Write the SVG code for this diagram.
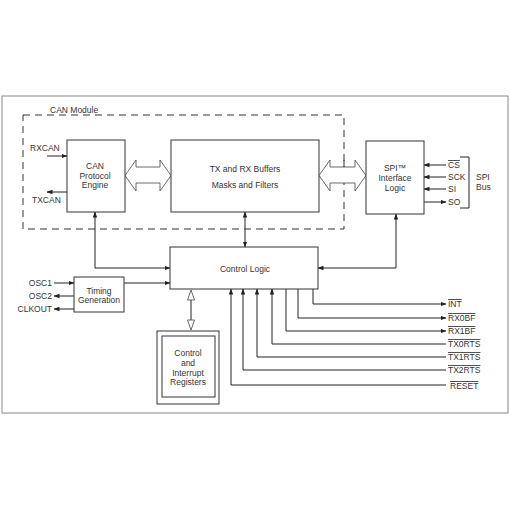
<svg xmlns="http://www.w3.org/2000/svg" width="510" height="510" viewBox="0 0 510 510">
<style>
text{font-family:"Liberation Sans",Arial,sans-serif;font-size:8.5px;fill:#333}
.m{text-anchor:middle}
.e{text-anchor:end}
.box{fill:#fff;stroke:#333;stroke-width:1}
.ln{fill:none;stroke:#222;stroke-width:1}
.ha{fill:#fff;stroke:#444;stroke-width:0.8}
.ov{text-decoration:overline}
</style>
<defs>
<marker id="ar" markerWidth="6" markerHeight="6" refX="5.5" refY="3" orient="auto" markerUnits="userSpaceOnUse">
<path d="M0,0.8 L6,3 L0,5.2 Z" fill="#222"/>
</marker>
<marker id="as" markerWidth="6" markerHeight="6" refX="0.5" refY="3" orient="auto" markerUnits="userSpaceOnUse">
<path d="M6,0.8 L0,3 L6,5.2 Z" fill="#222"/>
</marker>
</defs>
<rect x="2" y="96" width="506" height="317" fill="#fff" stroke="#888" stroke-width="1"/>
<g id="can-module">
<rect x="23" y="115" width="321" height="114" fill="none" stroke="#333" stroke-width="1" stroke-dasharray="7,5"/>
<text x="50" y="113">CAN Module</text>
</g>
<g id="connectors">
<!-- hollow double arrows -->
<path class="ha" d="M125,175.5 L136,160 L136,167 L160,167 L160,160 L171,175.5 L160,191 L160,183 L136,183 L136,191 Z"/>
<path class="ha" d="M319,175.5 L330,160 L330,167 L355,167 L355,160 L366,175.5 L355,191 L355,183 L330,183 L330,191 Z"/>
<line x1="344" y1="160" x2="344" y2="167" stroke="#333" stroke-dasharray="7,5"/>
<!-- RXCAN/TXCAN -->
<line class="ln" x1="47" y1="156" x2="67" y2="156" marker-end="url(#ar)"/>
<line class="ln" x1="67" y1="192" x2="47" y2="192" marker-end="url(#ar)"/>
<!-- buffers <-> control logic -->
<line class="ln" x1="245" y1="212" x2="245" y2="247" marker-start="url(#as)" marker-end="url(#ar)"/>
<!-- CAN engine -> control -->
<path class="ln" d="M95,212 L95,268 L170,268" marker-start="url(#as)" marker-end="url(#ar)"/>
<!-- SPI -> control -->
<path class="ln" d="M396,214 L396,268 L318,268" marker-start="url(#as)" marker-end="url(#ar)"/>
<!-- timing -> control -->
<line class="ln" x1="124" y1="283" x2="170" y2="283" marker-end="url(#ar)"/>
<!-- OSC -->
<line class="ln" x1="54" y1="283" x2="74" y2="283" marker-end="url(#ar)"/>
<line class="ln" x1="74" y1="296" x2="54" y2="296" marker-end="url(#ar)"/>
<line class="ln" x1="74" y1="309" x2="54" y2="309" marker-end="url(#ar)"/>
<!-- SPI bus -->
<line class="ln" x1="446" y1="165" x2="424" y2="165" marker-end="url(#ar)"/>
<line class="ln" x1="446" y1="177" x2="424" y2="177" marker-end="url(#ar)"/>
<line class="ln" x1="446" y1="189" x2="424" y2="189" marker-end="url(#ar)"/>
<line class="ln" x1="424" y1="202" x2="446" y2="202" marker-end="url(#ar)"/>
<path class="ln" d="M460,157 L469,157 L469,208 L460,208"/>
<!-- control <-> registers hollow -->
<line class="ln" x1="191" y1="296" x2="191" y2="323"/>
<path class="ha" d="M191,290 L194.5,300 L187.5,300 Z"/>
<path class="ha" d="M191,330 L194.5,320 L187.5,320 Z"/>
<!-- output signals -->
<path class="ln" d="M313,289 L313,304 L446,304" marker-end="url(#ar)"/>
<path class="ln" d="M298,289 L298,318 L446,318" marker-end="url(#ar)"/>
<path class="ln" d="M286,289 L286,331 L446,331" marker-end="url(#ar)"/>
<path class="ln" d="M446,344 L272,344 L272,289" marker-end="url(#ar)"/>
<path class="ln" d="M446,357 L257,357 L257,289" marker-end="url(#ar)"/>
<path class="ln" d="M446,370 L243,370 L243,289" marker-end="url(#ar)"/>
<path class="ln" d="M446,385 L231,385 L231,289" marker-end="url(#ar)"/>
</g>
<g id="can-protocol-engine">
<rect class="box" x="67" y="140" width="58" height="72"/>
<text class="m" x="95" y="169">CAN</text>
<text class="m" x="95" y="179">Protocol</text>
<text class="m" x="95" y="188">Engine</text>
</g>
<g id="buffers">
<rect class="box" x="171" y="140" width="148" height="72"/>
<text class="m" x="245" y="172">TX and RX Buffers</text>
<text class="m" x="245" y="188">Masks and Filters</text>
</g>
<g id="spi-logic">
<rect class="box" x="366" y="141" width="58" height="73"/>
<text class="m" x="395" y="171">SPI™</text>
<text class="m" x="395" y="181">Interface</text>
<text class="m" x="395" y="191">Logic</text>
</g>
<g id="control-logic">
<rect class="box" x="170" y="247" width="148" height="42"/>
<text class="m" x="245" y="272">Control Logic</text>
</g>
<g id="timing">
<rect class="box" x="74" y="277" width="50" height="35"/>
<text class="m" x="99" y="294">Timing</text>
<text class="m" x="99" y="303">Generation</text>
</g>
<g id="registers">
<rect class="box" x="157" y="331" width="62" height="73"/>
<rect class="box" x="162" y="336" width="53" height="61"/>
<text class="m" x="188" y="356">Control</text>
<text class="m" x="188" y="366">and</text>
<text class="m" x="188" y="376">Interrupt</text>
<text class="m" x="188" y="385">Registers</text>
</g>
<g id="labels">
<text x="30" y="151">RXCAN</text>
<text x="32" y="203">TXCAN</text>
<text class="e" x="52" y="286">OSC1</text>
<text class="e" x="52" y="299">OSC2</text>
<text class="e" x="52" y="312">CLKOUT</text>
<text class="ov" x="448" y="168">CS</text>
<text x="448" y="180">SCK</text>
<text x="448" y="192">SI</text>
<text x="448" y="205">SO</text>
<text x="476" y="180">SPI</text>
<text x="476" y="190">Bus</text>
<text class="ov" x="448" y="307">INT</text>
<text class="ov" x="448" y="321">RX0BF</text>
<text class="ov" x="448" y="334">RX1BF</text>
<text class="ov" x="448" y="347">TX0RTS</text>
<text class="ov" x="448" y="360">TX1RTS</text>
<text class="ov" x="448" y="373">TX2RTS</text>
<text class="ov" x="450" y="389">RESET</text>
</g>
</svg>
